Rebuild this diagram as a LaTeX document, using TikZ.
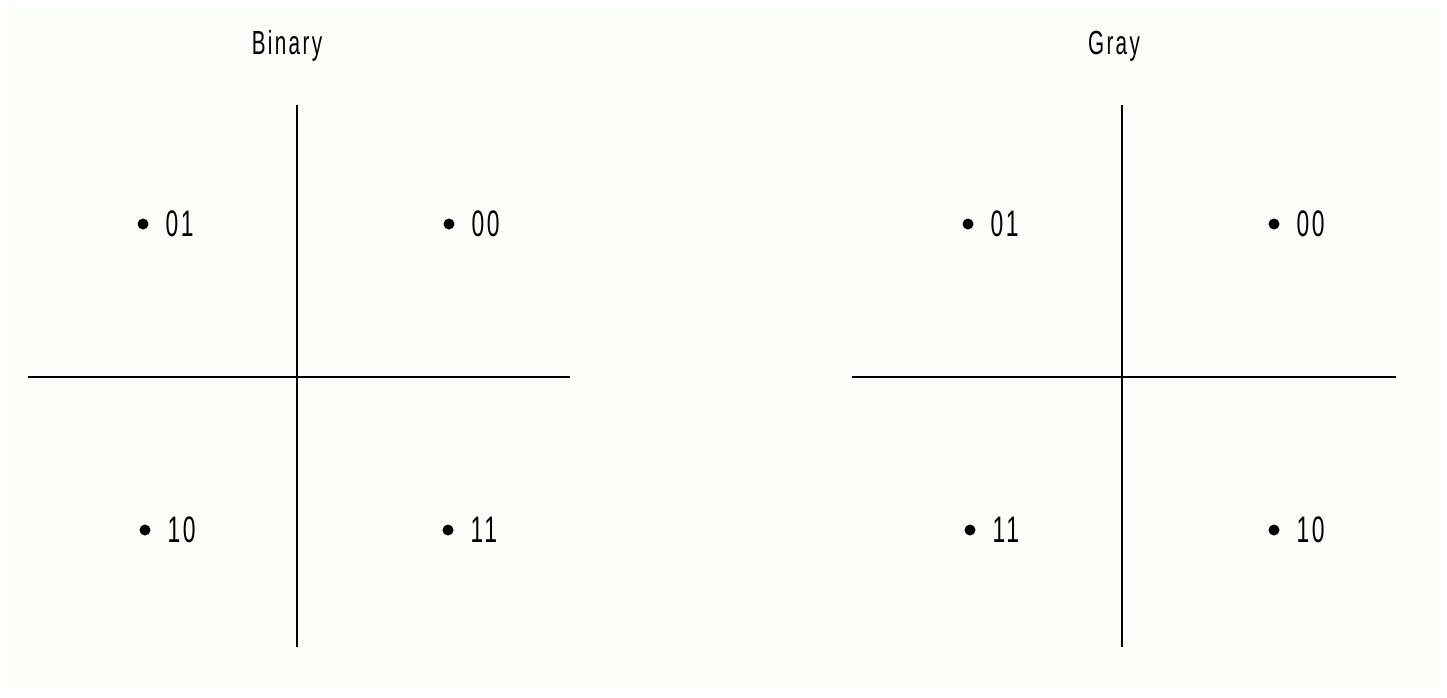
\documentclass[tikz,border=0pt]{standalone}
\usepackage{fontspec}
\setmainfont{Liberation Sans}
\newfontfamily\narrowfont[FakeStretch=0.62, LetterSpace=7]{Liberation Sans}
\usetikzlibrary{positioning}
\definecolor{paper}{RGB}{251,253,249}

\begin{document}
\begin{tikzpicture}[
        x=0.02cm, y=-0.02cm,
        axis/.style={line width=1.1pt, draw=black},
        dot/.style={circle, fill=black, inner sep=0pt, minimum size=0.22cm},
        code/.style={font=\narrowfont\fontsize{21}{21}\selectfont, inner sep=0pt},
        title/.style={font=\narrowfont\fontsize{19}{19}\selectfont, inner sep=0pt}
    ]
        \fill[white] (0,0) rectangle (1447,697);
        \fill[paper] (7,7) rectangle (1440,690);
        \useasboundingbox (0,0) rectangle (1447,697);

        % Binary
        \node[title] (bintitle) at (287,46) {Binary};
        \coordinate (bl) at (28,377);
        \coordinate (br) at (570,377);
        \coordinate (bt) at (297,105);
        \coordinate (bb) at (297,647);
        \draw[axis] (bl) -- (br);
        \draw[axis] (bt) -- (bb);

        \node[dot] (b01) at (143,224) {};
        \node[dot] (b00) at (449,224) {};
        \node[dot] (b10) at (145,530) {};
        \node[dot] (b11) at (448,530) {};
        \node[code, right=0.33cm of b01] (b01txt) {01};
        \node[code, right=0.33cm of b00] (b00txt) {00};
        \node[code, right=0.33cm of b10] (b10txt) {10};
        \node[code, right=0.33cm of b11] (b11txt) {11};

        % Gray
        \node[title] (graytitle) at (1114,46) {Gray};
        \coordinate (gl) at (852,377);
        \coordinate (gr) at (1396,377);
        \coordinate (gt) at (1122,105);
        \coordinate (gb) at (1122,647);
        \draw[axis] (gl) -- (gr);
        \draw[axis] (gt) -- (gb);

        \node[dot] (g01) at (968,224) {};
        \node[dot] (g00) at (1274,224) {};
        \node[dot] (g11) at (970,530) {};
        \node[dot] (g10) at (1274,530) {};
        \node[code, right=0.33cm of g01] (g01txt) {01};
        \node[code, right=0.33cm of g00] (g00txt) {00};
        \node[code, right=0.33cm of g11] (g11txt) {11};
        \node[code, right=0.33cm of g10] (g10txt) {10};
    \end{tikzpicture}
\end{document}
